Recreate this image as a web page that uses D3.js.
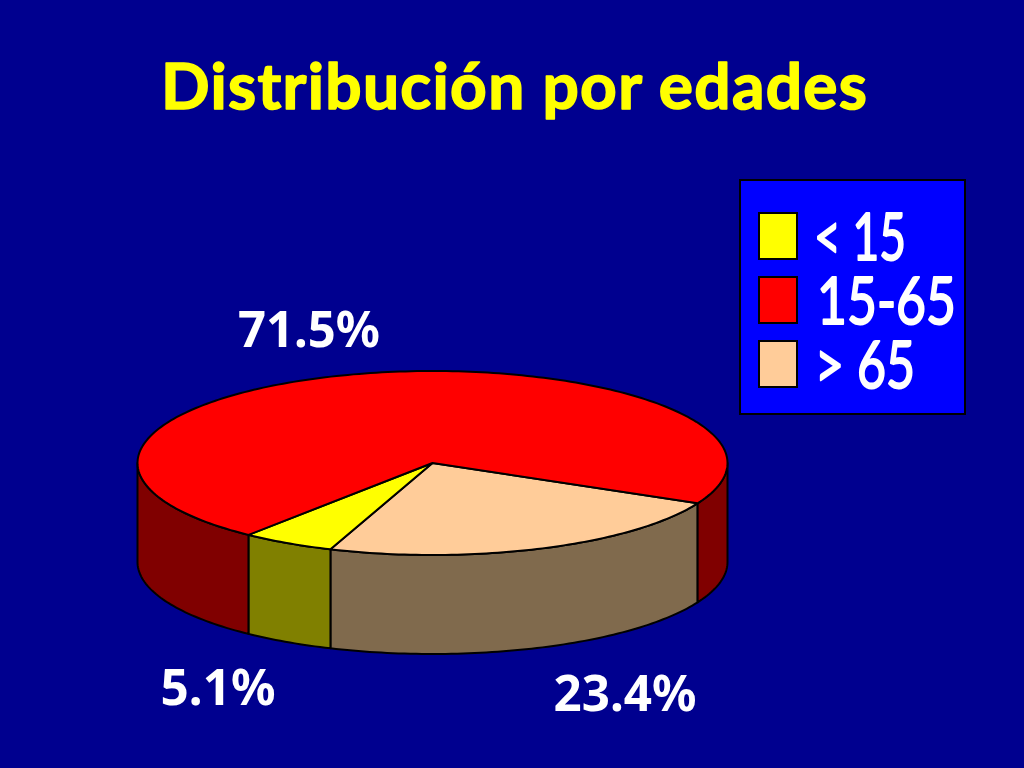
<!DOCTYPE html>
<html><head><meta charset="utf-8">
<script src="https://cdn.jsdelivr.net/npm/d3@7"></script>
<style>html,body{margin:0;padding:0;background:#00008f;overflow:hidden}svg{display:block}</style>
</head><body><svg id="c" width="1024" height="768"></svg>
<script>
const titleText = "Distribución por edades";
const categories = ["> 65", "< 15", "15-65"];
const values = [23.4, 5.1, 71.5];
const valueLabels = ["23.4%", "5.1%", "71.5%"];
const topColors = ["#ffcc99", "#ffff00", "#ff0000"];
const sideColors = ["#806a4d", "#808000", "#800000"];
const legendOrder = ["< 15", "15-65", "> 65"];

const svg = d3.select("#c");
const cx = 432.5, cy = 463, rx = 295, ry = 92, depth = 99;
const startDeg = 116;
const pie = d3.pie().sort(null).value(d => d)
  .startAngle(startDeg * Math.PI / 180)
  .endAngle((startDeg + 360) * Math.PI / 180);
const arcs = pie(values);
const color = d3.scaleOrdinal(categories, topColors);
const side = d3.scaleOrdinal(categories, sideColors);
const px = a => cx + rx * Math.sin(a), py = a => cy - ry * Math.cos(a);

svg.append("text").attr("x", 514).attr("y", 109).attr("text-anchor", "middle")
  .attr("font-family", "Lato").attr("font-weight", "bold").attr("font-size", 64)
  .attr("fill", "#ffff00").attr("stroke", "#ffff00").attr("stroke-width", 1.5).attr("stroke-linejoin", "round")
  .attr("textLength", 706).attr("lengthAdjust", "spacing").text(titleText);

function sweep(a0, a1) {
  const n = Math.max(2, Math.ceil(Math.abs(a1 - a0) / 0.02));
  return d3.range(n + 1).map(i => a0 + (a1 - a0) * i / n);
}
arcs.forEach((d, i) => {
  for (const k of [0, 1]) {
    const lo = Math.PI / 2 + k * 2 * Math.PI, hi = 3 * Math.PI / 2 + k * 2 * Math.PI;
    const a0 = Math.max(d.startAngle, lo), a1 = Math.min(d.endAngle, hi);
    if (a1 <= a0) continue;
    const s = sweep(a0, a1);
    const top = s.map(a => [px(a), py(a)]);
    const bot = s.slice().reverse().map(a => [px(a), py(a) + depth]);
    svg.append("path").attr("d", d3.line()(top.concat(bot)) + "Z")
      .attr("fill", side(categories[i])).attr("stroke", "#000").attr("stroke-width", 2).attr("stroke-linejoin", "round");
  }
});
arcs.forEach((d, i) => {
  const s = sweep(d.startAngle, d.endAngle).map(a => [px(a), py(a)]);
  svg.append("path").attr("d", d3.line()([[cx, cy], ...s]) + "Z")
    .attr("fill", color(categories[i])).attr("stroke", "#000").attr("stroke-width", 2).attr("stroke-linejoin", "round");
});

const labelPos = [[625, 711], [218, 705], [309, 347]];
const labelWidths = [143, 115, 142];
valueLabels.forEach((t, i) => {
  svg.append("text").attr("x", labelPos[i][0]).attr("y", labelPos[i][1]).attr("text-anchor", "middle")
    .attr("font-family", "'Noto Sans'").attr("font-weight", "bold").attr("font-size", 51)
    .attr("fill", "#fff").attr("textLength", labelWidths[i]).attr("lengthAdjust", "spacingAndGlyphs").text(t);
});

svg.append("rect").attr("x", 740).attr("y", 180).attr("width", 225).attr("height", 234)
  .attr("fill", "#0000ff").attr("stroke", "#000").attr("stroke-width", 2);
const ly = d3.scalePoint(legendOrder, [236, 364]);
const legendWidths = {"< 15": 92, "15-65": 139, "> 65": 100};
const legendX = {"< 15": 814, "15-65": 817, "> 65": 815};
legendOrder.forEach(k => {
  const y = ly(k);
  svg.append("rect").attr("x", 759).attr("y", y - 23).attr("width", 38).attr("height", 46)
    .attr("fill", color(k)).attr("stroke", "#000").attr("stroke-width", 2);
  svg.append("text").attr("x", legendX[k]).attr("y", y + 24).attr("font-family", "Lato")
    .attr("font-size", 66).attr("fill", "#fff").attr("stroke", "#fff").attr("stroke-width", 2).attr("stroke-linejoin", "round")
    .attr("textLength", legendWidths[k]).attr("lengthAdjust", "spacingAndGlyphs").text(k);
});
</script></body></html>
